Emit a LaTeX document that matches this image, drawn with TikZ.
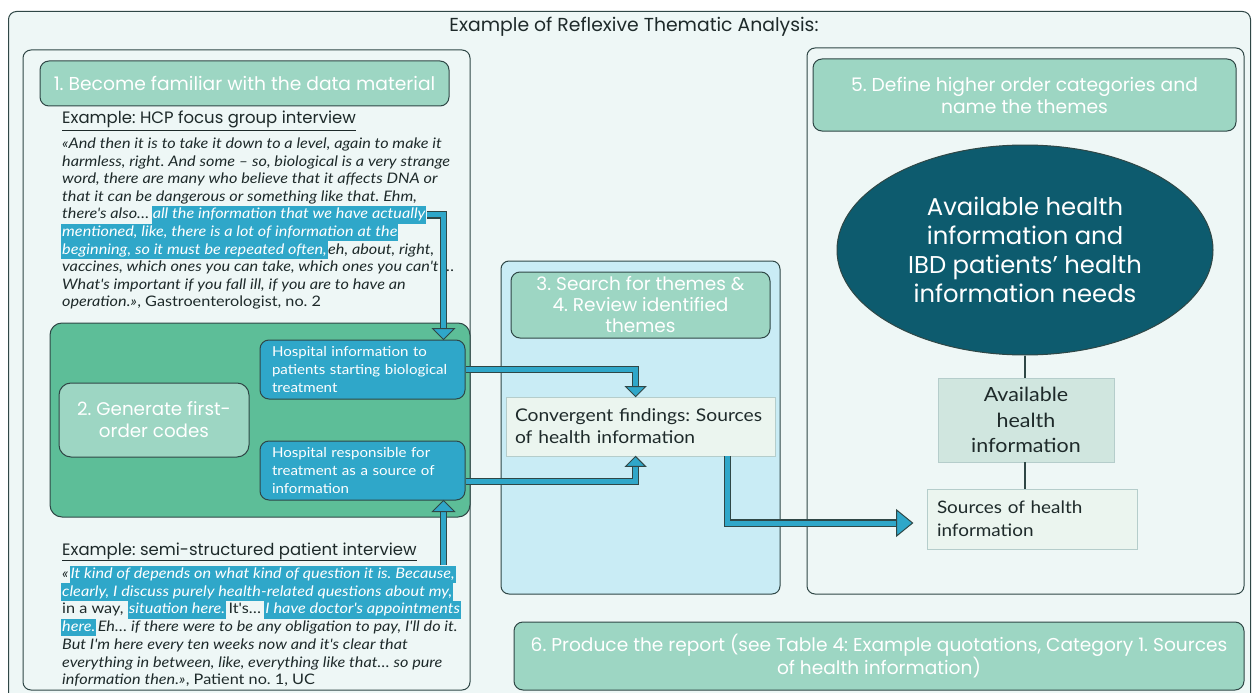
\documentclass[tikz,border=0pt]{standalone}
\usepackage{fontspec}
\setmainfont{Lato}
\newfontfamily\qf[FakeStretch=1.12]{Lato}
\newfontfamily\bodyf[FakeStretch=1.1]{Lato}
\newfontfamily\hf{Poppins}
\usetikzlibrary{arrows.meta,shapes.geometric,calc}
\definecolor{bg}{HTML}{EEF7F6}
\definecolor{mint}{HTML}{9DD6C3}
\definecolor{greenp}{HTML}{5DBE98}
\definecolor{cblue}{HTML}{2FA7C9}
\definecolor{pblue}{HTML}{C9ECF5}
\definecolor{tealc}{HTML}{0D5B6E}
\definecolor{avail}{HTML}{D0E6DF}
\definecolor{lightbox}{HTML}{EBF5EF}
\definecolor{edge}{HTML}{2F4746}
\definecolor{softedge}{HTML}{B5CDCB}
\definecolor{txt}{HTML}{1E2A2A}
\tikzset{
  panel/.style={draw=edge, line width=1pt, rounded corners=8pt, inner sep=0pt},
  phase/.style={draw=edge, line width=1pt, fill=mint, rounded corners=9pt, text=white, align=center},
  codebox/.style={draw=edge, line width=1pt, fill=cblue, rounded corners=9pt, text=white, align=left,
     font=\bodyf\fontsize{13.7}{17.6}\selectfont, minimum width=205pt, minimum height=59pt, text width=181pt, inner xsep=12pt},
  qt/.style={anchor=base west, inner sep=0pt, text=txt, font=\qf\fontsize{14.5}{17.6}\selectfont\itshape},
  qu/.style={qt, font=\qf\fontsize{14.5}{17.6}\selectfont},
  qh/.style={qt, fill=cblue, text=white, inner xsep=1pt, text height=13pt, text depth=4.7pt},
  exlab/.style={anchor=base west, inner sep=0pt, text=txt, font=\hf\fontsize{16.5}{19}\selectfont},
  shaftout/.style={draw=edge, line width=7.5pt},
  shaftin/.style={draw=cblue, line width=5pt},
  head/.style={fill=cblue, draw=edge, line width=1pt, line join=miter},
  plain/.style={draw=edge, line width=1.5pt}
}
\begin{document}
\frenchspacing
\begin{tikzpicture}[x=1pt,y=-1pt]
\useasboundingbox (0,0) rectangle (1254,693);
\fill[white] (0,0) rectangle (1254,693);
% outer frame
\node[panel, fill=bg, anchor=north west, minimum width=1242pt, minimum height=700pt] (outer) at (8,11) {};
\node[text=txt, font=\hf\fontsize{18.8}{22}\selectfont] (title) at (634,27) {Example of Reflexive Thematic Analysis:};

% ---------- left panel ----------
\node[panel, fill=bg, minimum width=447pt, minimum height=640pt] (left) at (246.5,370) {};
\node[phase, minimum width=409pt, minimum height=45pt, font=\hf\fontsize{18.7}{22}\selectfont] (s1) at (244.5,83.5) {1. Become familiar with the data material};
\node[exlab] (ex1) at (62,124) {\underline{Example: HCP focus group interview}};

% quote 1
\node[qt] (q1l1) at (62,148.5) {«And then it is to take it down to a level, again to make it};
\node[qt] (q1l2) at (62,166.1) {harmless, right. And some – so, biological is a very strange};
\node[qt] (q1l3) at (62,183.7) {word, there are many who believe that it affects DNA or};
\node[qt] (q1l4) at (62,201.3) {that it can be dangerous or something like that. Ehm,};
\node[qt] (q1l5) at (62,218.9) {there's also…};
\node[qh, xshift=2pt] (q1h5) at (q1l5.base east) {all the information that we have actually};
\node[qh, xshift=-1pt] (q1h6) at (62,236.5) {mentioned, like, there is a lot of information at the};
\node[qh, xshift=-1pt] (q1h7) at (62,254.1) {beginning, so it must be repeated often, };
\node[qt] (q1l7) at (q1h7.base east) {eh, about, right,};
\node[qt] (q1l8) at (62,271.7) {vaccines, which ones you can take, which ones you can't …};
\node[qt] (q1l9) at (62,289.3) {What's important if you fall ill, if you are to have an};
\node[qt] (q1l10) at (62,306.9) {operation.»};
\node[qu] (q1a10) at (q1l10.base east) {, Gastroenterologist, no. 2};

% step 2 area
\node[panel, fill=greenp, rounded corners=12pt, minimum width=420pt, minimum height=194pt] (green) at (260,420) {};
\node[phase, rounded corners=12pt, minimum width=190pt, minimum height=74pt, font=\hf\fontsize{18.3}{22}\selectfont] (s2) at (154,420) {2. Generate first-\\order codes};
\node[codebox] (c1) at (362.5,369.5) {Hospital information to\\patients starting biological\\treatment};
\node[codebox] (c2) at (362.5,470.5) {Hospital responsible for\\treatment as a source of\\information};

% quote 2
\node[exlab] (ex2) at (62,555) {\underline{Example: semi-structured patient interview}};
\node[qt] (q2l1) at (62,578.5) {«};
\node[qh, xshift=0.5pt] (q2h1) at (q2l1.base east) {It kind of depends on what kind of question it is. Because,};
\node[qh, xshift=-1pt] (q2h2) at (62,596.2) {clearly, I discuss purely health-related questions about my,};
\node[qu] (q2l3) at (62,613.9) {in a way,};
\node[qh, xshift=4pt] (q2h3) at (q2l3.base east) {situation here. };
\node[qu, xshift=2pt] (q2m3) at (q2h3.base east) {It's…};
\node[qh, xshift=3pt] (q2h3b) at (q2m3.base east) {I have doctor's appointments};
\node[qh, xshift=-1pt] (q2h4) at (62,631.6) {here. };
\node[qt, xshift=1pt] (q2l4) at (q2h4.base east) {Eh… if there were to be any obligation to pay, I'll do it.};
\node[qt] (q2l5) at (62,649.3) {But I'm here every ten weeks now and it's clear that};
\node[qt] (q2l6) at (62,667) {everything in between, like, everything like that… so pure};
\node[qt] (q2l7) at (62,684.7) {information then.»};
\node[qu] (q2a7) at (q2l7.base east) {, Patient no. 1, UC};

% ---------- middle panel ----------
\node[panel, fill=pblue, minimum width=279pt, minimum height=333pt] (mid) at (640.5,427.5) {};
\node[phase, minimum width=259pt, minimum height=66pt, inner ysep=0pt, font=\hf\fontsize{18.5}{21}\selectfont] (s34) at (640.5,305) {3. Search for themes \&\\4. Review identified\\themes};
\node[draw=softedge, line width=0.8pt, fill=lightbox, minimum width=269pt, minimum height=59pt, text width=251pt, align=left, text=txt, font=\bodyf\fontsize{17.5}{22}\selectfont] (conv) at (640.5,426.5) {Convergent findings: Sources\\of health information};

% ---------- right panel ----------
\node[panel, fill=bg, minimum width=437pt, minimum height=546pt] (right) at (1025.5,321) {};
\node[phase, minimum width=423pt, minimum height=72pt, font=\hf\fontsize{18.7}{22}\selectfont] (s5) at (1024.5,95) {5. Define higher order categories and\\name the themes};
\node[ellipse, draw=edge, line width=1pt, fill=tealc, minimum width=376pt, minimum height=210pt, inner sep=0pt, text=white, align=center, font=\hf\fontsize{24.3}{29}\selectfont] (ell) at (1025,250) {Available health\\information and\\IBD patients’ health\\information needs};
\node[draw=softedge, line width=0.8pt, fill=avail, minimum width=176pt, minimum height=84pt, align=center, text=txt, font=\bodyf\fontsize{19.5}{25.5}\selectfont] (av) at (1026,420) {Available\\health\\information};
\node[draw=softedge, line width=0.8pt, fill=lightbox, minimum width=210pt, minimum height=60pt, text width=190pt, align=left, text=txt, font=\bodyf\fontsize{17.2}{23}\selectfont] (src) at (1032,519) {Sources of health\\information};
\draw[plain] (ell.south) -- (ell.south |- av.north);
\draw[plain] (ell.south |- av.south) -- (ell.south |- src.north);

% ---------- step 6 ----------
\node[phase, minimum width=730pt, minimum height=68pt, font=\hf\fontsize{18.6}{22}\selectfont] (s6) at (879,656) {6. Produce the report (see Table 4: Example quotations, Category 1. Sources\\of health information)};

% ---------- connectors ----------
\coordinate (c1in) at ($(c1.north west)+(184,0)$);
\coordinate (c2in) at ($(c2.south west)+(184,0)$);
\coordinate (cvtop) at ($(conv.north west)+(130,0)$);
\coordinate (cvbot) at ($(conv.south west)+(130,0)$);
\coordinate (cvout) at ($(conv.south west)+(222,0)$);
\coordinate (srcin) at ($(src.west)+(-14,4)$);

% quote 1 -> code 1
\draw[shaftout, shorten >=9pt] (q1h5.east) -| (c1in);
\draw[shaftin, shorten >=9pt] (q1h5.east) -| (c1in);
\filldraw[head] (c1in) -- ++(-11,-11) -- ++(22,0) -- cycle;
% quote 2 -> code 2
\draw[shaftout, shorten >=9pt] (q2h1.north -| c2in) -- (c2in);
\draw[shaftin, shorten >=9pt] (q2h1.north -| c2in) -- (c2in);
\filldraw[head] (c2in) -- ++(-11,11) -- ++(22,0) -- cycle;
% code 1 -> convergent
\draw[shaftout, shorten >=9pt] (c1.east) -| (cvtop);
\draw[shaftin, shorten >=9pt] (c1.east) -| (cvtop);
\filldraw[head] (cvtop) -- ++(-10,-10) -- ++(20,0) -- cycle;
% code 2 -> convergent
\draw[shaftout, shorten >=9pt] ($(c2.east)+(0,11)$) -| (cvbot);
\draw[shaftin, shorten >=9pt] ($(c2.east)+(0,11)$) -| (cvbot);
\filldraw[head] (cvbot) -- ++(-10,10) -- ++(20,0) -- cycle;
% convergent -> sources
\draw[shaftout, shorten >=13pt] (cvout) |- (srcin);
\draw[shaftin, shorten >=13pt] (cvout) |- (srcin);
\filldraw[head] (srcin) -- ++(-16,-13) -- ++(0,26) -- cycle;
\end{tikzpicture}
\end{document}
